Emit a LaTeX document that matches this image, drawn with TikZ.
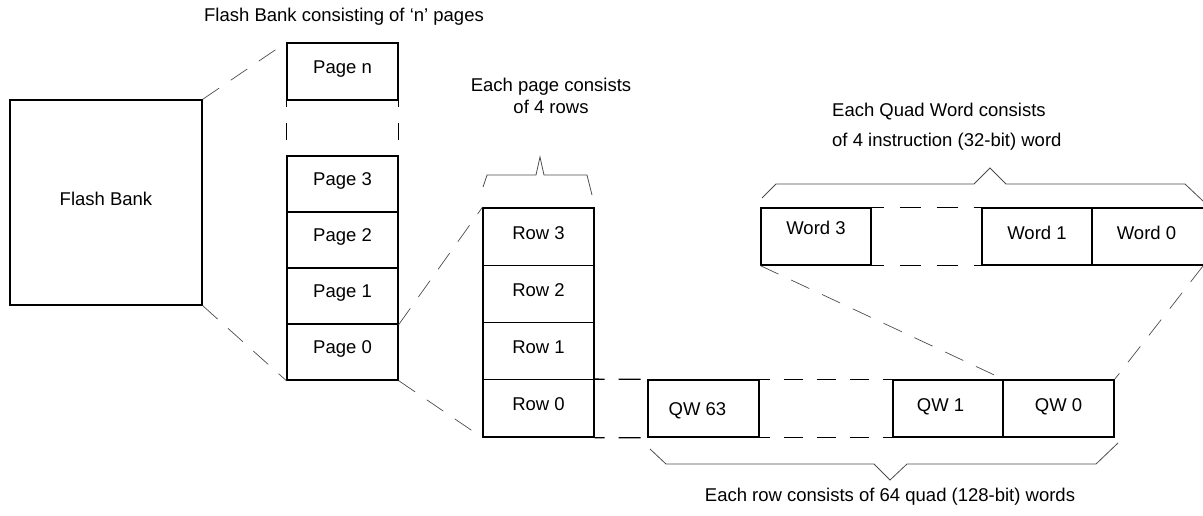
\documentclass[tikz,border=0pt]{standalone}
\usepackage{fontspec}
\setmainfont{Liberation Sans}
\begin{document}
\begin{tikzpicture}[x=1pt,y=-1pt,
  font=\fontsize{18.5}{22}\selectfont,
  box/.style={draw,line width=1.3pt,inner sep=0pt,minimum width=#1,minimum height=57pt,
    text height=13pt,text depth=8pt},
  box/.default=111pt,
  conn/.style={draw=black!70,line width=0.7pt,dash pattern=on 20pt off 14pt},
  bline/.style={draw=black!70,line width=0.8pt},
  gapline/.style n args={3}{draw,line width=1.3pt,dash pattern=on #1 off #2,dash phase=#3},
  lbl/.style={inner sep=0pt}
]
\useasboundingbox (0,0) rectangle (1203,515);
\clip (0,0) rectangle (1203,515);

% Flash bank
\node[box,minimum width=192pt,minimum height=205pt,text depth=8pt] (fb) at (106,202.5) {Flash Bank};

% pages
\node[box,minimum height=57pt,text depth=10pt] (pn) at (342.5,71.5) {Page n};
\node[box,minimum height=56pt,text depth=10pt] (p3) at (342.5,184) {Page 3};
\node[box,minimum height=56pt,text depth=10pt] (p2) at (342.5,240) {Page 2};
\node[box,minimum height=56pt,text depth=10pt] (p1) at (342.5,296) {Page 1};
\node[box,minimum height=56pt,text depth=10pt] (p0) at (342.5,352) {Page 0};
\draw[gapline={17pt}{16.5pt}{11pt}] (pn.south west) -- (p3.north west);
\draw[gapline={17pt}{16.5pt}{11pt}] (pn.south east) -- (p3.north east);

% rows
\node[box,minimum height=57.25pt] (r3) at (538.5,236.6) {Row 3};
\node[box,minimum height=57.25pt] (r2) at (538.5,293.9) {Row 2};
\node[box,minimum height=57.25pt] (r1) at (538.5,351.1) {Row 1};
\node[box,minimum height=57.25pt] (r0) at (538.5,408.4) {Row 0};

% quad words
\node[box,text depth=0pt] (qw63) at (703.5,408.5) {QW 63\hspace*{12pt}};
\node[box=110pt] (qw1) at (948,408.5) {QW 1\hspace*{15pt}};
\node[box] (qw0) at (1058.5,408.5) {QW 0};
\draw[gapline={22pt}{14pt}{12pt}] (r0.north east) -- (qw63.north west);
\draw[gapline={22pt}{14pt}{12pt}] (r0.south east) -- (qw63.south west);
\draw[gapline={19pt}{14pt}{9pt}] (qw63.north east) -- (qw1.north west);
\draw[gapline={19pt}{14pt}{9pt}] (qw63.south east) -- (qw1.south west);

% words
\node[box=110pt,text depth=17pt] (w3) at (816,236.5) {Word 3};
\node[box=110pt] (w1) at (1037,236.5) {Word 1};
\node[box=130pt] (w0) at (1157,236.5) {Word 0\hspace*{21pt}};
\coordinate (w0end) at (1203,266);
\draw[gapline={21pt}{16pt}{9pt}] (w3.north east) -- (w1.north west);
\draw[gapline={21pt}{16pt}{9pt}] (w3.south east) -- (w1.south west);

% zoom connectors
\draw[conn] (fb.north east) -- (pn.north west);
\draw[conn] (fb.south east) -- (p0.south west);
\draw[conn] (p1.south east) -- (r3.north west);
\draw[conn] (p0.south east) -- (r0.south west);
\draw[conn] (w3.south west) -- (qw1.north east);
\draw[conn] (w0end) -- (qw0.north east);

% braces
\draw[bline] (483,187) -- (487,175) -- (536,175) -- (540,157) -- (544,175) -- (587,175) -- (592,195);
\draw[bline] (762,198) -- (776,184) -- (974,184) -- (990,168) -- (1006,184) -- (1185,184) -- (1203,201);
\draw[bline] (650,449) -- (666,464) -- (874,464) -- (890,480) -- (907,464) -- (1096,464) -- (1118,443);

% texts
\node[lbl] (t1) at (344,17) {Flash Bank consisting of ‘n’ pages};
\node[lbl,align=center] (t2) at (551,96) {Each page consists\\of 4 rows};
\node[lbl,align=left,anchor=west,font=\fontsize{18.5}{30}\selectfont] (t3) at (832,127) {Each Quad Word consists\\of 4 instruction (32-bit) word};
\node[lbl] (t4) at (890,497) {Each row consists of 64 quad (128-bit) words};
\end{tikzpicture}
\end{document}
